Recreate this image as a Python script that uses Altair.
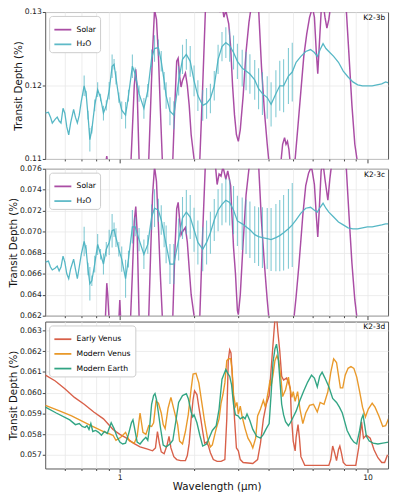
import altair as alt
import pandas as pd

# ---------------- data ----------------
wl_h2o = [0.501, 0.515, 0.525, 0.534, 0.549, 0.559, 0.569, 0.579, 0.590, 0.600, 0.611, 0.622, 0.633, 0.651, 0.662, 0.674, 0.686, 0.699,
          0.718, 0.731, 0.744, 0.757, 0.771, 0.792, 0.814, 0.836, 0.859, 0.882, 0.906, 0.931, 0.948, 0.965, 0.991, 1.018, 1.055, 1.084, 1.124, 1.154, 1.196, 1.251, 1.297, 1.344, 1.381, 1.431, 1.470, 1.510,
          1.538, 1.594, 1.652, 1.728, 1.791, 1.856, 1.924, 1.994, 2.066, 2.161, 2.240, 2.321, 2.406, 2.493, 2.585, 2.679, 2.776, 2.878, 2.983, 3.119, 3.233, 3.351, 3.504, 3.631, 3.764, 3.936, 4.080, 4.266, 4.422, 4.583, 4.793, 4.967,
          5.148, 5.383, 5.630, 5.888, 6.102, 6.268, 6.438, 6.613, 6.793, 6.978, 7.297, 7.631, 7.979, 8.345, 8.726, 9.126, 9.543, 9.980, 10.44, 10.91, 11.41, 11.83, 12.15]

h2o_b = [0.11623, 0.11636, 0.11569, 0.11489, 0.11543, 0.11569, 0.11516, 0.11489, 0.11689, 0.11623, 0.11436, 0.11329, 0.11489, 0.11676, 0.11569, 0.11489, 0.11596, 0.11783,
         0.11996, 0.11889, 0.11596, 0.11263, 0.11396, 0.11729, 0.11943, 0.11836, 0.11623, 0.11729, 0.11929, 0.12263, 0.12289, 0.12103, 0.11836, 0.11663, 0.11596, 0.11863, 0.12263, 0.12156, 0.11889, 0.11689, 0.11929, 0.12369, 0.12503, 0.12516, 0.12329, 0.12063,
         0.11863, 0.11649, 0.11596, 0.12063, 0.12356, 0.12423, 0.12329, 0.12063, 0.11863, 0.11729, 0.11756, 0.11823, 0.11996, 0.12356, 0.12529, 0.12583, 0.12543, 0.12449, 0.12329, 0.12236, 0.12196, 0.12156, 0.12076, 0.11956, 0.11889, 0.11836, 0.11743, 0.11889, 0.11996, 0.11996, 0.12129, 0.12183,
         0.12316, 0.12396, 0.12463, 0.12489, 0.12449, 0.12396, 0.12489, 0.12569, 0.12503, 0.12463, 0.12396, 0.12316, 0.12196, 0.12116, 0.12049, 0.12009, 0.11996, 0.11996, 0.11996, 0.12009, 0.12023, 0.12049, 0.12036]

h2o_c = [0.06711, 0.06720, 0.06664, 0.06636, 0.06655, 0.06673, 0.06627, 0.06664, 0.06767, 0.06711, 0.06599, 0.06552, 0.06645, 0.06739, 0.06645, 0.06552, 0.06664, 0.06785,
         0.06907, 0.06833, 0.06645, 0.06505, 0.06533, 0.06692, 0.06879, 0.06785, 0.06692, 0.06833, 0.06898, 0.07009, 0.07019, 0.06944, 0.06833, 0.06739, 0.06552, 0.06739, 0.07047, 0.07047, 0.06925, 0.06785, 0.06879, 0.07140, 0.07224, 0.07205, 0.07112, 0.06972,
         0.06879, 0.06692, 0.06692, 0.06925, 0.07131, 0.07187, 0.07140, 0.07019, 0.06898, 0.06833, 0.06898, 0.06991, 0.07112, 0.07205, 0.07261, 0.07299, 0.07280, 0.07205, 0.07103, 0.07075, 0.07047, 0.07019, 0.06972, 0.06953, 0.06944, 0.06935, 0.06925, 0.06944, 0.06963, 0.06991, 0.07028, 0.07065,
         0.07112, 0.07177, 0.07224, 0.07233, 0.07205, 0.07187, 0.07233, 0.07271, 0.07224, 0.07187, 0.07140, 0.07093, 0.07065, 0.07037, 0.07028, 0.07028, 0.07037, 0.07047, 0.07047, 0.07056, 0.07065, 0.07075, 0.07075]

h2o_err = [0] * 18 + [
    0.0014, 0.0004, 0.0006, 0.0016, 0.0005, 0.0008, 0.0010, 0.0005, 0.0010, 0.0007, 0.0012, 0.0016, 0.0007, 0.0009, 0.0007, 0.0012, 0.0018, 0.0008, 0.0016, 0.0009, 0.0011, 0.0014, 0.0009, 0.0012, 0.0018, 0.0011, 0.0014, 0.0012,
    0.0018, 0.0019, 0.0019, 0.0020, 0.0020, 0.0021, 0.0021, 0.0021, 0.0021, 0.0021, 0.0021, 0.0020, 0.0020, 0.0020, 0.0020, 0.0021, 0.0022, 0.0023, 0.0024, 0.0025, 0.0026, 0.0027, 0.0027, 0.0028, 0.0029, 0.0029, 0.0030, 0.0032, 0.0034, 0.0036, 0.0038, 0.0040,
] + [0] * 23

wl_solar_b = [0.501, 0.843, 0.874, 0.886, 0.898, 0.939, 1.046, 1.104, 1.124, 1.144, 1.160, 1.175, 1.196, 1.229, 1.274, 1.309, 1.332, 1.356, 1.381, 1.406, 1.432, 1.457, 1.484,
              1.538, 1.594, 1.637, 1.667, 1.697, 1.720, 1.743, 1.767, 1.791, 1.840, 1.873, 1.906, 1.941, 1.994, 2.048, 2.104, 2.161, 2.220, 2.321, 2.450, 2.539, 2.585, 2.631, 2.679,
              2.752, 2.801, 2.852, 2.904, 2.956, 3.009, 3.064, 3.147, 3.233, 3.321, 3.411, 3.535, 3.631, 3.731, 3.832, 3.936, 4.007, 4.190, 4.462, 4.542, 4.624, 4.687, 4.750, 4.815,
              4.879, 5.012, 5.102, 5.241, 5.383, 5.530, 5.681, 5.835, 5.994, 6.102, 6.212, 6.296, 6.381, 6.496, 6.613, 6.733, 6.854, 6.978, 7.104, 7.362, 7.838, 8.197, 8.420, 8.649,
              8.884, 9.126, 9.629, 12.15]
solar_b = [0.100, 0.104, 0.1090, 0.1104, 0.1088, 0.104, 0.104, 0.108, 0.1140, 0.1200, 0.1222, 0.1193, 0.1100, 0.104, 0.104, 0.1100, 0.1173, 0.1246, 0.1303, 0.1290, 0.1240, 0.1170, 0.1100,
           0.104, 0.104, 0.1100, 0.1173, 0.1233, 0.1237, 0.1213, 0.1198, 0.1207, 0.1217, 0.1200, 0.1173, 0.1133, 0.1100, 0.105, 0.1100, 0.1200, 0.1310, 0.136, 0.134, 0.1300, 0.1310, 0.1293, 0.1302,
           0.1284, 0.1253, 0.1200, 0.1160, 0.1133, 0.1124, 0.1140, 0.1186, 0.1246, 0.1286, 0.1313, 0.134, 0.1306, 0.1226, 0.1166, 0.1120, 0.1093, 0.106, 0.1093, 0.1120, 0.1129, 0.1120, 0.1124, 0.1113,
           0.1093, 0.1080, 0.1100, 0.1146, 0.1193, 0.1240, 0.1270, 0.1293, 0.1306, 0.1293, 0.1245, 0.1216, 0.1253, 0.1300, 0.1313, 0.1293, 0.1278, 0.1290, 0.1310, 0.1330, 0.1330, 0.1306, 0.1240, 0.1173,
           0.1120, 0.1093, 0.105, 0.100]

wl_solar_c = [0.501, 0.859, 0.874, 0.886, 0.894, 0.906, 0.964, 0.991, 1.000, 1.009, 1.055, 1.104, 1.124, 1.144, 1.160, 1.175, 1.196, 1.229, 1.274, 1.309, 1.332, 1.356, 1.381, 1.406,
              1.432, 1.457, 1.484, 1.538, 1.594, 1.637, 1.667, 1.697, 1.720, 1.743, 1.767, 1.791, 1.840, 1.873, 1.906, 1.941, 1.994, 2.048, 2.104, 2.161, 2.220, 2.321, 2.428, 2.471,
              2.516, 2.562, 2.608, 2.679, 2.727, 2.801, 2.826, 2.878, 2.930, 2.983, 3.009, 3.064, 3.147, 3.233, 3.321, 3.411, 3.535, 3.631, 3.731, 3.832, 3.936, 4.007, 4.305, 4.624,
              4.879, 5.057, 5.148, 5.288, 5.480, 5.630, 5.783, 5.940, 6.102, 6.212, 6.296, 6.381, 6.496, 6.613, 6.733, 6.916, 7.041, 7.168, 7.362, 7.838, 8.197, 8.420, 8.649, 8.884,
              9.126, 9.629, 12.15]
solar_c = [0.058, 0.060, 0.0615, 0.0651, 0.0640, 0.0615, 0.060, 0.0615, 0.0635, 0.0615, 0.060, 0.0615, 0.0660, 0.0710, 0.0724, 0.0700, 0.0620, 0.058, 0.058, 0.0620, 0.0680, 0.0735, 0.0762, 0.0748,
           0.0705, 0.0660, 0.0620, 0.058, 0.058, 0.0620, 0.0680, 0.0722, 0.0728, 0.0712, 0.0697, 0.0700, 0.0704, 0.0690, 0.0665, 0.0640, 0.0620, 0.059, 0.0620, 0.0700, 0.0770, 0.080, 0.0765, 0.0745,
           0.0755, 0.0753, 0.0762, 0.0750, 0.0758, 0.0744, 0.0723, 0.0685, 0.0660, 0.0625, 0.0621, 0.0640, 0.0690, 0.0735, 0.0760, 0.0775, 0.079, 0.0765, 0.0710, 0.0670, 0.0635, 0.0615, 0.059, 0.0605,
           0.059, 0.0620, 0.0638, 0.0669, 0.0716, 0.0744, 0.0756, 0.0762, 0.0745, 0.0715, 0.0695, 0.0720, 0.0758, 0.0765, 0.0750, 0.0730, 0.0750, 0.0765, 0.078, 0.078, 0.0763, 0.0715, 0.0670, 0.0635,
           0.0612, 0.059, 0.057]

wl_early_venus = [0.501, 0.549, 0.600, 0.656, 0.718, 0.785, 0.859, 0.939, 1.000, 1.065, 1.134, 1.207, 1.285, 1.356, 1.393, 1.419, 1.444, 1.470, 1.510, 1.552, 1.580, 1.608, 1.652,
                  1.697, 1.759, 1.840, 1.873, 1.906, 1.941, 1.976, 2.003, 2.048, 2.085, 2.123, 2.161, 2.200, 2.240, 2.280, 2.321, 2.385, 2.471, 2.562, 2.655, 2.703, 2.740, 2.776, 2.810,
                  2.852, 2.904, 2.956, 3.009, 3.064, 3.147, 3.442, 3.599, 3.697, 3.798, 3.901, 4.007, 4.117, 4.191, 4.266, 4.344, 4.422, 4.502, 4.583, 4.708, 4.793, 4.879, 4.923, 5.012,
                  5.102, 5.148, 5.241, 5.310, 5.383, 5.580, 6.268, 6.978, 7.104, 7.232, 7.362, 7.495, 7.631, 7.730, 7.838, 7.979, 8.197, 8.964, 9.207, 9.458, 9.629, 9.890, 10.25, 10.62,
                  11.01, 11.41, 11.72, 12.04]
early_venus = [0.06084, 0.06056, 0.06019, 0.05977, 0.05944, 0.05907, 0.05874, 0.05823, 0.05799, 0.05781, 0.05757, 0.05739, 0.05729, 0.05720, 0.05734, 0.05813, 0.05757, 0.05715, 0.05706, 0.05748, 0.05790, 0.05734, 0.05692,
               0.05678, 0.05673, 0.05673, 0.05697, 0.05757, 0.05874, 0.05967, 0.06009, 0.05991, 0.05930, 0.05874, 0.05813, 0.05757, 0.05762, 0.05743, 0.05711, 0.05678, 0.05669, 0.05669, 0.05678, 0.05874, 0.06154, 0.06206, 0.06191,
               0.06061, 0.05874, 0.05734, 0.05720, 0.05678, 0.05664, 0.05659, 0.05678, 0.05757, 0.05874, 0.05944, 0.05986, 0.06173, 0.06294, 0.06410, 0.06294, 0.06201, 0.06079, 0.06061, 0.06070, 0.06051, 0.06019, 0.05893, 0.05767,
               0.05720, 0.05785, 0.05846, 0.05781, 0.05692, 0.05650, 0.05650, 0.05650, 0.05678, 0.05743, 0.05711, 0.05673, 0.05725, 0.05743, 0.05711, 0.05664, 0.05650, 0.05650, 0.05734, 0.05860, 0.05781, 0.05795, 0.05781, 0.05725,
               0.05687, 0.05664, 0.05664, 0.05701]

wl_modern_venus = [0.501, 0.574, 0.639, 0.737, 0.859, 0.939, 0.965, 1.009, 1.055, 1.094, 1.144, 1.175, 1.207, 1.240, 1.274, 1.309, 1.344, 1.369, 1.400, 1.432, 1.470, 1.497, 1.524,
                   1.566, 1.608, 1.652, 1.712, 1.743, 1.791, 1.840, 1.889, 1.941, 1.976, 2.030, 2.085, 2.142, 2.200, 2.260, 2.321, 2.363, 2.450, 2.516, 2.562, 2.608, 2.655, 2.703, 2.752,
                   2.801, 2.840, 2.878, 2.930, 2.970, 3.009, 3.064, 3.119, 3.204, 3.291, 3.381, 3.442, 3.535, 3.599, 3.697, 3.798, 3.867, 3.972, 4.043, 4.080, 4.153, 4.228, 4.305, 4.382,
                   4.462, 4.542, 4.666, 4.793, 4.879, 4.950, 5.012, 5.102, 5.220, 5.336, 5.480, 5.630, 5.835, 6.048, 6.268, 6.438, 6.673, 6.916, 7.104, 7.297, 7.495, 7.631, 7.768, 7.940,
                   8.123, 8.345, 8.572, 8.805, 9.044, 9.291, 9.543, 9.803, 10.07, 10.44, 10.72, 11.11, 11.52, 11.83, 12.15]
modern_venus = [0.05939, 0.05911, 0.05888, 0.05851, 0.05813, 0.05795, 0.05771, 0.05785, 0.05809, 0.05767, 0.05757, 0.05790, 0.05902, 0.05809, 0.05799, 0.05841, 0.05837, 0.05855, 0.05958, 0.05949, 0.05902, 0.05846, 0.05827,
                0.05925, 0.05977, 0.05921, 0.05846, 0.05767, 0.05753, 0.05813, 0.05893, 0.06019, 0.06089, 0.06093, 0.06047, 0.05953, 0.05860, 0.05781, 0.05739, 0.05748, 0.05827, 0.05874, 0.05949, 0.05991, 0.06047, 0.06154, 0.06163,
                0.06163, 0.06107, 0.05991, 0.05935, 0.05953, 0.05897, 0.05935, 0.05883, 0.05827, 0.05781, 0.05757, 0.05734, 0.05781, 0.05888, 0.05921, 0.05963, 0.05930, 0.06005, 0.06061, 0.06033, 0.06084, 0.06154, 0.06177, 0.06154,
                0.06079, 0.05981, 0.06014, 0.06075, 0.06014, 0.05977, 0.06005, 0.05958, 0.06005, 0.05921, 0.05851, 0.05902, 0.05939, 0.05944, 0.05907, 0.05953, 0.05944, 0.06005, 0.06098, 0.06163, 0.06145, 0.06084, 0.06023, 0.06023,
                0.06084, 0.06117, 0.06126, 0.06117, 0.06075, 0.06005, 0.05930, 0.05883, 0.05921, 0.05949, 0.05930, 0.05888, 0.05837, 0.05841, 0.05874]

wl_modern_earth = [0.501, 0.554, 0.628, 0.662, 0.686, 0.705, 0.724, 0.737, 0.751, 0.764, 0.778, 0.799, 0.821, 0.843, 0.866, 0.890, 0.923, 0.948, 0.973, 1.000, 1.027, 1.055, 1.084,
                   1.114, 1.130, 1.144, 1.175, 1.207, 1.240, 1.274, 1.297, 1.320, 1.344, 1.369, 1.387, 1.406, 1.432, 1.457, 1.497, 1.538, 1.594, 1.637, 1.682, 1.728, 1.791, 1.856, 1.889,
                   1.941, 1.970, 1.994, 2.048, 2.104, 2.161, 2.240, 2.301, 2.363, 2.450, 2.516, 2.585, 2.679, 2.727, 2.776, 2.826, 2.878, 2.930, 3.000, 3.064, 3.147, 3.204, 3.262, 3.351,
                   3.442, 3.567, 3.697, 3.798, 3.901, 4.007, 4.080, 4.153, 4.228, 4.290, 4.344, 4.422, 4.502, 4.583, 4.666, 4.793, 4.879, 5.012, 5.148, 5.336, 5.530, 5.732, 5.940, 6.102,
                   6.268, 6.410, 6.555, 6.733, 6.978, 7.232, 7.495, 7.699, 7.909, 8.051, 8.270, 8.572, 8.805, 9.044, 9.291, 9.458, 9.590, 9.715, 9.890, 10.16, 10.53, 11.01, 11.52, 12.15]
modern_earth = [0.05930, 0.05902, 0.05869, 0.05846, 0.05851, 0.05837, 0.05832, 0.05841, 0.05823, 0.05851, 0.05813, 0.05818, 0.05809, 0.05795, 0.05813, 0.05804, 0.05855, 0.05827, 0.05790, 0.05762, 0.05753, 0.05757, 0.05799,
                0.05855, 0.05869, 0.05837, 0.05762, 0.05753, 0.05771, 0.05785, 0.05771, 0.05837, 0.05944, 0.05986, 0.05995, 0.05967, 0.05902, 0.05837, 0.05748, 0.05739, 0.05753, 0.05771, 0.05860, 0.05953, 0.05986, 0.05995, 0.05972,
                0.05907, 0.05883, 0.05893, 0.05855, 0.05795, 0.05743, 0.05753, 0.05785, 0.05818, 0.05841, 0.05921, 0.06065, 0.06112, 0.06093, 0.06079, 0.06037, 0.05944, 0.05893, 0.05888, 0.05874, 0.05883, 0.05874, 0.05897, 0.05865,
                0.05823, 0.05790, 0.05781, 0.05799, 0.05827, 0.05851, 0.05991, 0.06145, 0.06210, 0.06233, 0.06191, 0.06070, 0.05944, 0.05893, 0.05860, 0.05841, 0.05855, 0.05883, 0.05911, 0.05963, 0.06009, 0.06051, 0.06084, 0.06070,
                0.06028, 0.06079, 0.06098, 0.06070, 0.06028, 0.05972, 0.05953, 0.05930, 0.05902, 0.05869, 0.05818, 0.05781, 0.05762, 0.05753, 0.05818, 0.05874, 0.05893, 0.05851, 0.05790, 0.05767, 0.05757, 0.05753, 0.05757, 0.05762]

# ---------------- styling ----------------
W, H = 350, 150
FONT = "DejaVu Sans"
XDOM = [0.5, 12.1]
GRID_X = [0.6, 0.7, 0.8, 0.9, 1, 2, 3, 4, 5, 6, 7, 8, 9, 10]
C_SOLAR, C_H2O = "#a13a9b", "#4db3c2"
C_EV, C_MV, C_ME = "#d6573f", "#e8941f", "#27a07d"
YTITLE = "Transit Depth (%)"

tick_cond = {"condition": {"test": "datum.value == 1 || datum.value == 10", "value": 4}, "value": 2}


def x_enc(bottom):
    if bottom:
        axis = alt.Axis(values=GRID_X, grid=True, title="Wavelength (μm)", tickSize=tick_cond,
                        labelExpr="datum.value == 1 || datum.value == 10 ? format(datum.value, '~g') : ''")
    else:
        axis = alt.Axis(values=GRID_X, grid=True, labels=False, title=None, tickSize=tick_cond)
    return alt.X("wl:Q", scale=alt.Scale(type="log", domain=XDOM, nice=False), axis=axis)


def legend():
    return alt.Legend(orient="top-left", offset=4, title=None, fillColor="white", strokeColor="#cccccc",
                      padding=4, cornerRadius=3, labelFontSize=7.8, labelFont=FONT, symbolType="stroke",
                      symbolStrokeWidth=1.8, symbolSize=300, rowPadding=1, labelLimit=200)


def panel(series, yscale, yaxis, names, colors, label, bottom, err=None):
    cscale = alt.Scale(domain=names, range=colors)
    layers = []
    for name, wl, vals, width, op in series:
        df = pd.DataFrame({"wl": wl, "depth": vals, "series": name})
        layers.append(
            alt.Chart(df).mark_line(clip=True, strokeWidth=width, opacity=op).encode(
                x=x_enc(bottom),
                y=alt.Y("depth:Q", scale=yscale, axis=yaxis, title=YTITLE),
                color=alt.Color("series:N", scale=cscale, legend=legend()),
            )
        )
        if err is not None and name == names[-1]:
            e = pd.DataFrame({"wl": wl, "depth": vals, "err": err})
            e = e[e["err"] > 0].copy()
            e["lo"] = e["depth"] - e["err"]
            e["hi"] = e["depth"] + e["err"]
            layers.append(
                alt.Chart(e).mark_rule(clip=True, color=colors[-1], strokeWidth=1.1, opacity=0.7).encode(
                    x=x_enc(bottom),
                    y=alt.Y("lo:Q", scale=yscale, axis=yaxis, title=YTITLE),
                    y2="hi:Q",
                )
            )
    lab = alt.Chart(pd.DataFrame({"t": [label]})).mark_text(
        align="right", baseline="top", fontSize=7.6, font=FONT, color="black"
    ).encode(x=alt.value(W - 3), y=alt.value(2), text="t:N")
    layers.append(lab)
    return alt.layer(*layers).properties(width=W, height=H)


ax_b = alt.Axis(values=[0.11, 0.12, 0.13], format=".2f", grid=True, tickSize=3)
ax_c = alt.Axis(values=[0.062, 0.064, 0.066, 0.068, 0.070, 0.072, 0.074, 0.076], format=".3f", grid=True, tickSize=3)
ax_d = alt.Axis(values=[0.057, 0.058, 0.059, 0.060, 0.061, 0.062, 0.063], format=".3f", grid=True, tickSize=3)

p_b = panel(
    [("Solar", wl_solar_b, solar_b, 1.5, 0.9), ("H₂O", wl_h2o, h2o_b, 1.3, 0.95)],
    alt.Scale(domain=[0.11, 0.13], nice=False, zero=False), ax_b,
    ["Solar", "H₂O"], [C_SOLAR, C_H2O], "K2-3b", False, err=h2o_err)
p_c = panel(
    [("Solar", wl_solar_c, solar_c, 1.5, 0.9), ("H₂O", wl_h2o, h2o_c, 1.3, 0.95)],
    alt.Scale(domain=[0.062, 0.076], nice=False, zero=False), ax_c,
    ["Solar", "H₂O"], [C_SOLAR, C_H2O], "K2-3c", False, err=h2o_err)
p_d = panel(
    [("Early Venus", wl_early_venus, early_venus, 1.4, 0.95),
     ("Modern Venus", wl_modern_venus, modern_venus, 1.4, 0.95),
     ("Modern Earth", wl_modern_earth, modern_earth, 1.4, 0.95)],
    alt.Scale(domain=[0.05635, 0.06342], nice=False, zero=False), ax_d,
    ["Early Venus", "Modern Venus", "Modern Earth"], [C_EV, C_MV, C_ME], "K2-3d", True)

chart = alt.vconcat(p_b, p_c, p_d, spacing=0).resolve_scale(
    y="independent", color="independent", x="independent"
).resolve_legend(color="independent").properties(
    padding={"left": 0, "top": -6, "right": 2, "bottom": 0}
).configure_view(
    stroke="#555555", strokeWidth=1
).configure_axis(
    labelFont=FONT, labelFontSize=7.8, labelColor="#222222", titleFont=FONT, titleFontSize=10.5,
    titleFontWeight="normal", titleColor="#111111", tickColor="#444444", domain=False,
    gridColor="#e8e8e8", gridWidth=0.8, labelPadding=1, titlePadding=1
)

chart.save("out.html", embed_options={"renderer": "svg", "actions": False})
